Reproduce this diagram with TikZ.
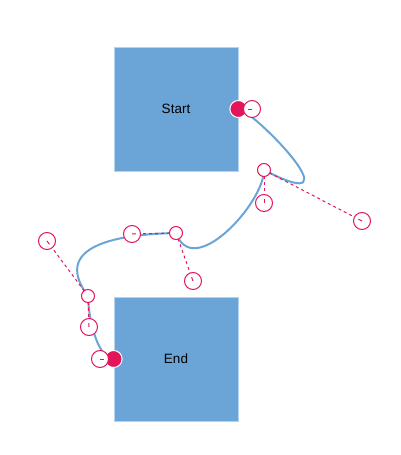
\documentclass[tikz,border=0pt]{standalone}
\usepackage{fontspec}
\setmainfont{Liberation Sans}
\usetikzlibrary{calc}
\definecolor{boxblue}{HTML}{6BA5D7}
\definecolor{boxedge}{HTML}{B5D2EE}
\definecolor{handle}{HTML}{E3165B}
\tikzset{
  x=1pt, y=-1pt,
  box/.style={draw=boxedge, line width=0.8pt, fill=boxblue, minimum width=124pt, minimum height=124pt, inner sep=0pt, font=\fontsize{13.5}{15}\selectfont, text=black},
  conn/.style={draw=boxblue, line width=2pt},
  guide/.style={draw=handle, line width=1pt, dash pattern=on 3pt off 3pt},
  hcirc/.style={circle, draw=handle, fill=white, line width=1pt, minimum size=17pt, inner sep=0pt},
  scirc/.style={circle, draw=handle, fill=white, line width=1pt, minimum size=13pt, inner sep=0pt},
  endpt/.style={circle, draw=white, fill=handle, line width=1pt, minimum size=17pt, inner sep=0pt},
}
\begin{document}
\begin{tikzpicture}
\useasboundingbox (0,0) rectangle (400,455);
\node[box] (start) at (176,109) {Start};
\node[box] (end) at (176,359) {End};
% control and segment points
\coordinate (h1) at (252,109);
\coordinate (h2) at (362,221);
\coordinate (s1) at (264,170);
\coordinate (h3) at (264,203);
\coordinate (h4) at (193,281);
\coordinate (s2) at (176,233);
\coordinate (h5) at (132,234);
\coordinate (h6) at (47,241);
\coordinate (s3) at (88,296);
\coordinate (h7) at (89,327);
\coordinate (h8) at (100,359);
% connector
\draw[conn] (start.east) .. controls (h1) and (h2) .. (s1)
  .. controls (h3) and (h4) .. (s2)
  .. controls (h5) and (h6) .. (s3)
  .. controls (h7) and (h8) .. (end.west);
% guide lines
\draw[guide] (s1) -- (h2);
\draw[guide] (s1) -- (h3);
\draw[guide] (s2) -- (h4);
\draw[guide] (s2) -- (h5);
\draw[guide] (s3) -- (h6);
\draw[guide] (s3) -- (h7);
% endpoints
\node[endpt] (p0) at (start.east) {};
\node[endpt] (p1) at (end.west) {};
% segment circles
\node[scirc] (c1) at (s1) {};
\node[scirc] (c2) at (s2) {};
\node[scirc] (c3) at (s3) {};
% handle circles with center ticks
\foreach \h/\s in {h1/start.east, h2/s1, h3/s1, h4/s2, h5/s2, h6/s3, h7/s3, h8/end.west}{
  \node[hcirc] at (\h) {};
  \draw[draw=handle, line width=1pt] (\h) -- ($(\h)!4pt!(\s)$);
}
\end{tikzpicture}
\end{document}
